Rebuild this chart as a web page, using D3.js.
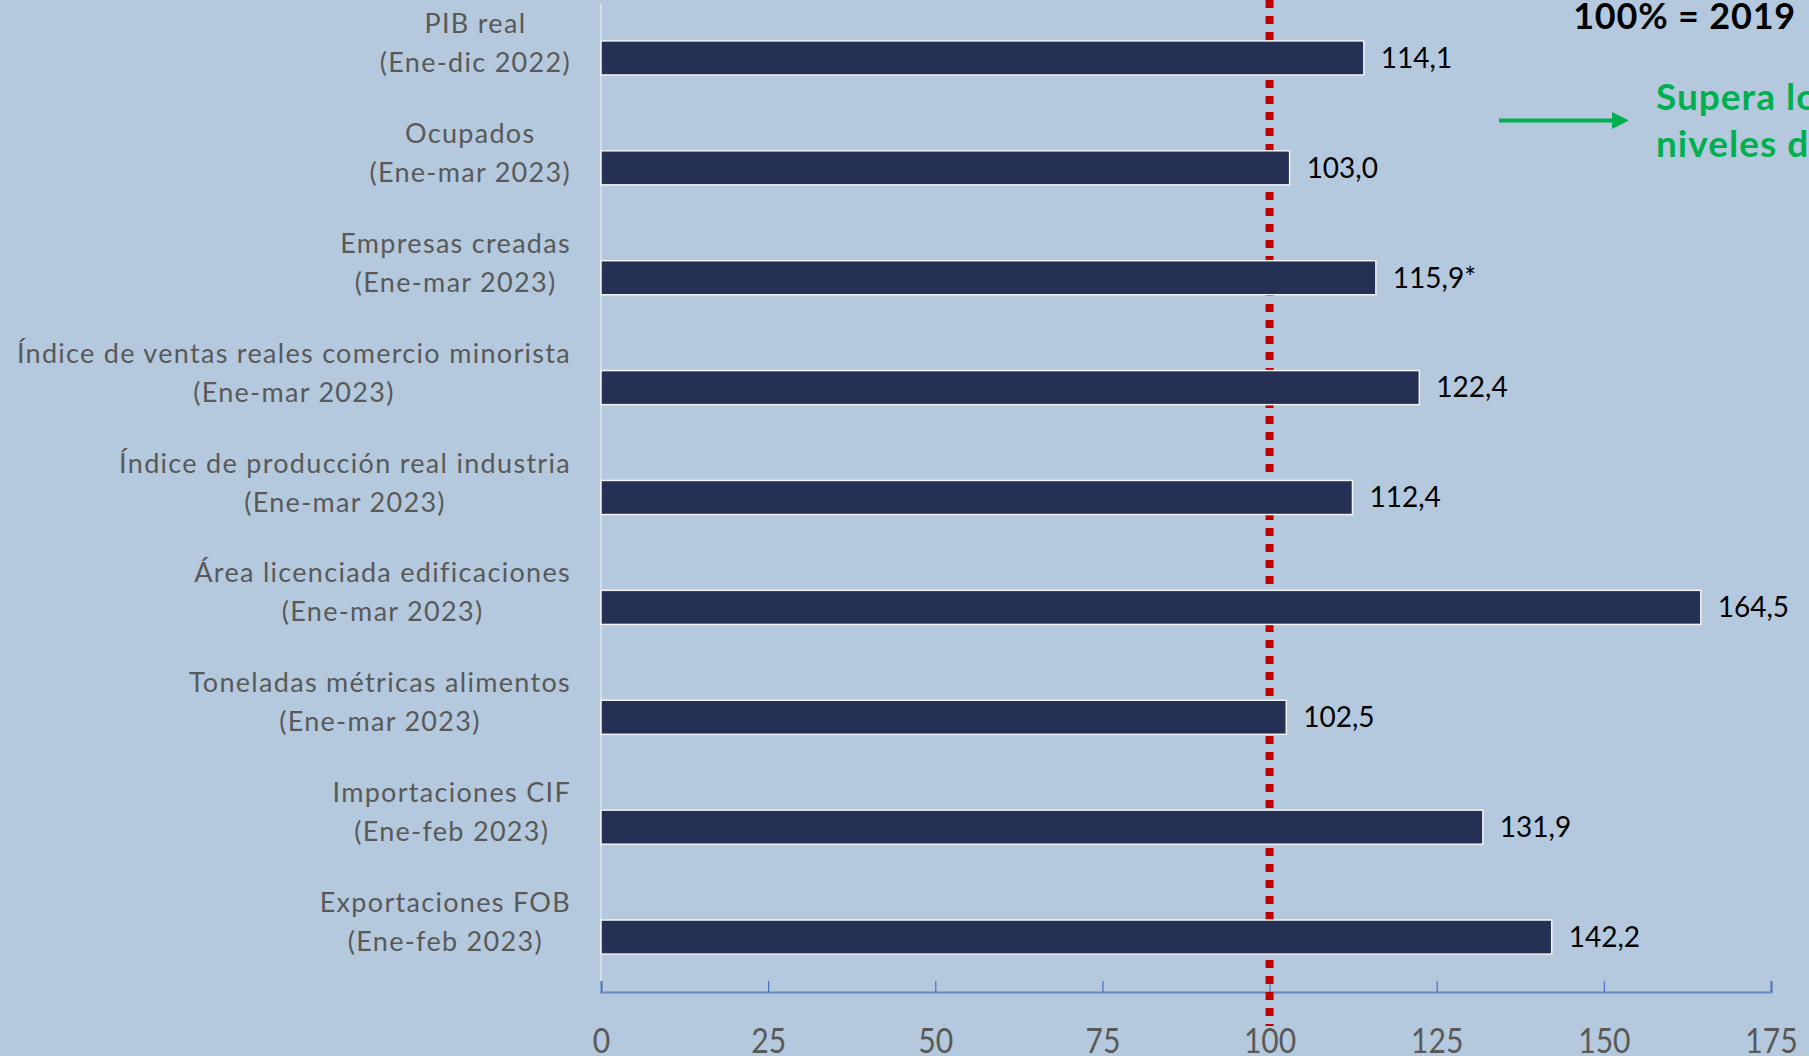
<!DOCTYPE html>
<html>
<head>
<meta charset="utf-8">
<script src="https://cdn.jsdelivr.net/npm/d3@7"></script>
<style>
  html, body { margin: 0; padding: 0; background: #b4c9dd; overflow: hidden; }
  svg { display: block; font-family: Lato, "Open Sans", sans-serif; }
</style>
</head>
<body>
<script>
// indicadores, 100% = nivel 2019
var categories = ["PIB real", "Ocupados", "Empresas creadas",
  "Índice de ventas reales comercio minorista", "Índice de producción real industria",
  "Área licenciada edificaciones", "Toneladas métricas alimentos",
  "Importaciones CIF", "Exportaciones FOB"];
var periods = ["(Ene-dic 2022)", "(Ene-mar 2023)", "(Ene-mar 2023)", "(Ene-mar 2023)",
  "(Ene-mar 2023)", "(Ene-mar 2023)", "(Ene-mar 2023)", "(Ene-feb 2023)", "(Ene-feb 2023)"];
var values = [114.1, 103.0, 115.9, 122.4, 112.4, 164.5, 102.5, 131.9, 142.2];
var notes = ["", "", "*", "", "", "", "", "", ""];
var ticks = [0, 25, 50, 75, 100, 125, 150, 175];
var baseLevel = 100;

var width = 1809,
    height = 1056,
    plotLeft = 601,
    plotRight = 1771,
    plotTop = 3,
    plotBottom = 992;

var svg = d3.select("body").append("svg")
    .attr("width", width)
    .attr("height", height);

svg.append("rect")
    .attr("width", width)
    .attr("height", height)
    .attr("fill", "#b4c9dd");

var x = d3.scaleLinear()
    .domain([0, 175])
    .range([plotLeft, plotRight]);

var y = d3.scaleBand()
    .domain(d3.range(categories.length))
    .range([plotTop, plotBottom])
    .paddingInner(0.69)
    .paddingOuter(0.345);

var fmt = function(v) { return d3.format(".1f")(v).replace(".", ","); };

// eje de categorias
svg.append("line")
    .attr("x1", plotLeft).attr("x2", plotLeft)
    .attr("y1", plotTop).attr("y2", plotBottom)
    .attr("stroke", "#d6dde6")
    .attr("stroke-width", 2);

// eje x
var xAxis = d3.axisBottom(x)
    .tickValues(ticks)
    .tickSize(-11)
    .tickFormat(d3.format("d"));

var ax = svg.append("g")
    .attr("transform", "translate(0," + plotBottom + ")")
    .call(xAxis);

ax.select(".domain")
    .attr("stroke", "#6a86c2")
    .attr("stroke-width", 2.2);
ax.selectAll(".tick line")
    .attr("stroke", "#4a6fbf")
    .attr("stroke-width", 1.2);
ax.selectAll(".tick text")
    .attr("y", 61)
    .attr("dy", 0)
    .attr("font-size", 35)
    .attr("font-family", "Lato, sans-serif")
    .attr("fill", "#595959")
    .attr("transform", "scale(0.86,1)");

// linea de referencia 100 (detras de las barras)
svg.append("line")
    .attr("x1", x(baseLevel)).attr("x2", x(baseLevel))
    .attr("y1", 0).attr("y2", 1026)
    .attr("stroke", "#c00000")
    .attr("stroke-width", 8)
    .attr("stroke-dasharray", "8,8");

// barras
svg.selectAll(".bar")
    .data(values)
  .enter().append("rect")
    .attr("class", "bar")
    .attr("x", x(0))
    .attr("y", function(d, i) { return y(i); })
    .attr("width", function(d) { return x(d) - x(0); })
    .attr("height", y.bandwidth())
    .attr("fill", "#243154")
    .attr("stroke", "#f2f2f2")
    .attr("stroke-width", 1.5);

// etiquetas de valor
svg.selectAll(".val")
    .data(values)
  .enter().append("text")
    .attr("class", "val")
    .attr("x", function(d) { return x(d) + 17; })
    .attr("y", function(d, i) { return y(i) + y.bandwidth() / 2; })
    .attr("dy", "0.35em")
    .attr("font-size", 28)
    .attr("fill", "#000")
    .text(function(d, i) { return fmt(d) + notes[i]; });

// etiquetas de categoria: bloque centrado, alineado a la derecha
var labelRight = 571;
categories.forEach(function(c, i) {
  var cy = y(i) + y.bandwidth() / 2;
  var g = svg.append("g").attr("class", "cat");
  var t1 = g.append("text")
      .attr("y", cy - 25)
      .attr("text-anchor", "middle")
      .attr("font-size", 27)
      .attr("letter-spacing", 1.3)
      .attr("fill", "#595959")
      .text(c);
  var t2 = g.append("text")
      .attr("y", cy + 14)
      .attr("text-anchor", "middle")
      .attr("font-size", 27)
      .attr("letter-spacing", 1.3)
      .attr("fill", "#595959")
      .text(periods[i]);
  var w = Math.max(t1.node().getComputedTextLength(), t2.node().getComputedTextLength());
  t1.attr("x", labelRight - w / 2);
  t2.attr("x", labelRight - w / 2);
});

// anotaciones
svg.append("text")
    .attr("x", 1796)
    .attr("y", 29)
    .attr("text-anchor", "end")
    .attr("font-size", 36)
    .attr("letter-spacing", 0.8)
    .attr("font-weight", "bold")
    .attr("fill", "#000")
    .text("100% = 2019");

svg.append("defs").append("marker")
    .attr("id", "head")
    .attr("viewBox", "0 0 10 10")
    .attr("refX", 0).attr("refY", 5)
    .attr("markerWidth", 4.2).attr("markerHeight", 4.4)
    .attr("markerUnits", "strokeWidth")
    .attr("orient", "auto")
  .append("path")
    .attr("d", "M0,0 L10,5 L0,10 Z")
    .attr("fill", "#00b050");

svg.append("line")
    .attr("x1", 1499).attr("x2", 1612)
    .attr("y1", 120.5).attr("y2", 120.5)
    .attr("stroke", "#00b050")
    .attr("stroke-width", 4)
    .attr("marker-end", "url(#head)");

var green = svg.append("text")
    .attr("font-size", 37)
    .attr("letter-spacing", 1)
    .attr("font-weight", "bold")
    .attr("fill", "#00b050");
green.append("tspan").attr("x", 1656).attr("y", 110).text("Supera los");
green.append("tspan").attr("x", 1656).attr("y", 157).text("niveles de 2019");
</script>
</body>
</html>
